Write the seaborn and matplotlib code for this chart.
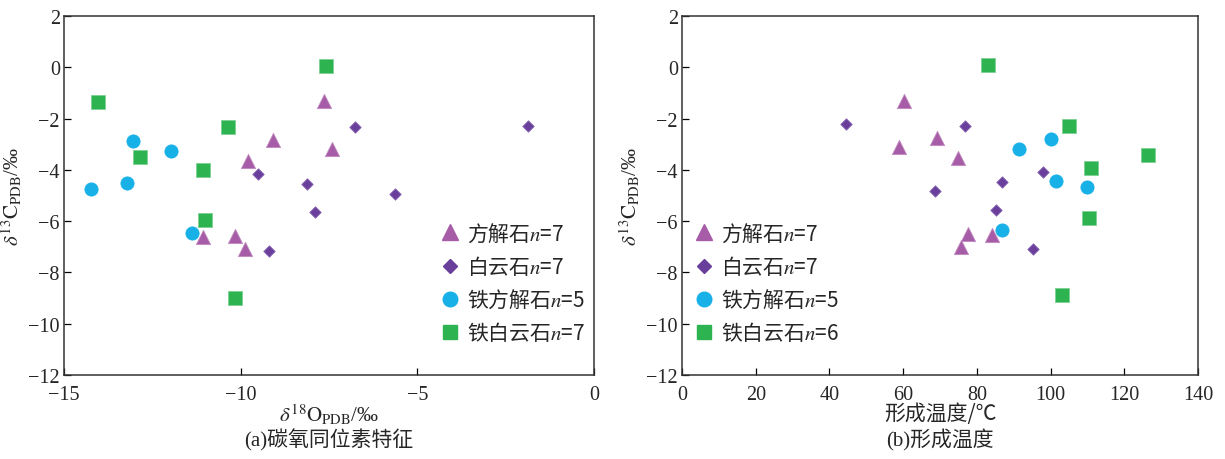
import matplotlib
matplotlib.use("Agg")
import matplotlib.pyplot as plt
import seaborn as sns
import pandas as pd
from matplotlib.lines import Line2D

sns.set_style("white")
plt.rcParams['font.family'] = ['Liberation Serif', 'Noto Sans CJK SC', 'DejaVu Sans']
plt.rcParams['mathtext.fontset'] = 'stix'
plt.rcParams['axes.unicode_minus'] = True

# ---- data: panel (a) delta18O vs delta13C ----
calcite_o = [-9.79, -9.09, -7.64, -7.42, -11.07, -10.16, -9.88]
calcite_c = [-3.66, -2.82, -1.33, -3.19, -6.62, -6.58, -7.09]
dolomite_o = [-6.76, -9.52, -8.11, -7.89, -1.86, -5.63, -9.20]
dolomite_c = [-2.34, -4.16, -4.54, -5.64, -2.28, -4.93, -7.17]
fecalcite_o = [-13.06, -11.96, -14.24, -13.23, -11.37]
fecalcite_c = [-2.88, -3.27, -4.75, -4.50, -6.45]
ankerite_o = [-14.05, -12.85, -10.37, -11.07, -11.00, -7.58, -10.16]
ankerite_c = [-1.34, -3.49, -2.34, -4.02, -5.97, 0.06, -9.00]

# ---- data: panel (b) formation temperature vs delta13C ----
calcite_t = [60.2, 58.8, 69.1, 75.0, 77.7, 75.6, 84.2]
calcite_c2 = [-1.30, -3.12, -2.76, -3.54, -6.50, -7.00, -6.54]
dolomite_t = [44.5, 68.7, 76.8, 86.8, 85.2, 98.0, 95.3]
dolomite_c2 = [-2.22, -4.84, -2.28, -4.46, -5.55, -4.08, -7.09]
fecalcite_t = [91.3, 100.0, 101.5, 109.9, 86.7]
fecalcite_c2 = [-3.17, -2.80, -4.42, -4.66, -6.35]
ankerite_t = [82.9, 105.0, 126.3, 111.0, 110.3, 103.2]
ankerite_c2 = [0.09, -2.30, -3.42, -3.94, -5.87, -8.87]

minerals = ['方解石', '白云石', '铁方解石', '铁白云石']
counts_a = [7, 7, 5, 7]
counts_b = [7, 7, 5, 6]
xticks_a = [-15, -10, -5, 0]
xticks_b = [0, 20, 40, 60, 80, 100, 120, 140]
yticks = [2, 0, -2, -4, -6, -8, -10, -12]

colors = ['#a65ca6', '#6a3f9b', '#17b1e8', '#2db34f']
edgecolors = ['#c08ac0', '#8a6ab5', '#17b1e8', '#7fd095']
markers = ['^', 'D', 'o', 's']
sizes = [105, 34, 90, 95]

df_a = pd.concat([
    pd.DataFrame({'x': calcite_o, 'y': calcite_c, 'm': minerals[0]}),
    pd.DataFrame({'x': dolomite_o, 'y': dolomite_c, 'm': minerals[1]}),
    pd.DataFrame({'x': fecalcite_o, 'y': fecalcite_c, 'm': minerals[2]}),
    pd.DataFrame({'x': ankerite_o, 'y': ankerite_c, 'm': minerals[3]}),
])
df_b = pd.concat([
    pd.DataFrame({'x': calcite_t, 'y': calcite_c2, 'm': minerals[0]}),
    pd.DataFrame({'x': dolomite_t, 'y': dolomite_c2, 'm': minerals[1]}),
    pd.DataFrame({'x': fecalcite_t, 'y': fecalcite_c2, 'm': minerals[2]}),
    pd.DataFrame({'x': ankerite_t, 'y': ankerite_c2, 'm': minerals[3]}),
])

fig = plt.figure(figsize=(12.25, 4.6), dpi=100)
ax1 = fig.add_axes([64/1225, 1-376/460, 530/1225, 359/460])
ax2 = fig.add_axes([682/1225, 1-376/460, 516/1225, 359/460])

tick_fs = 14.5
cjk = ['Noto Sans CJK SC', 'DejaVu Sans']


def draw(ax, df, counts, xlim, xticks, legend_loc):
    for i, m in enumerate(minerals):
        sub = df[df['m'] == m]
        sns.scatterplot(data=sub, x='x', y='y', ax=ax, marker=markers[i], s=sizes[i],
                        color=colors[i], edgecolor=edgecolors[i], linewidth=0.6,
                        legend=False, zorder=3)
    ax.set_xlim(*xlim)
    ax.set_ylim(-12, 2)
    ax.set_xticks(xticks)
    ax.set_yticks(yticks)
    ax.tick_params(direction='in', length=5, width=0.9, labelsize=tick_fs,
                   color='black', left=True, bottom=True, top=False, right=False, pad=3)
    ax.tick_params(axis='x', pad=7)
    for sp in ax.spines.values():
        sp.set_visible(True)
        sp.set_color('#333333')
        sp.set_linewidth(1.1)
    ax.set_ylabel(r'$\delta^{13}\mathrm{C}_{\mathrm{PDB}}$/‰', fontsize=15, labelpad=3)
    handles = [Line2D([], [], linestyle='none', marker=markers[i], color=colors[i],
                      markeredgecolor=colors[i],
                      markersize=[12, 7, 10.5, 10][i]) for i in range(4)]
    labels = [f'{m}$n$=' + str(c) for m, c in zip(minerals, counts)]
    leg = ax.legend(handles, labels, loc=legend_loc, frameon=False,
                    prop={'family': cjk, 'size': 15}, handletextpad=0.3,
                    labelspacing=0.45, handlelength=1.0, borderaxespad=0.3)
    return leg


draw(ax1, df_a, counts_a, (-15, 0), xticks_a, 'lower right')
draw(ax2, df_b, counts_b, (0, 140), xticks_b, 'lower left')

ax1.set_xlabel(r'$\delta^{18}\mathrm{O}_{\mathrm{PDB}}$/‰', fontsize=15, labelpad=-1)
ax2.set_xlabel('形成温度/℃', fontsize=15, labelpad=-1, family=cjk)
ax1.legend_.set_bbox_to_anchor((1.01, 0.045))
ax2.legend_.set_bbox_to_anchor((-0.005, 0.045))

fig.text((64+594)/2/1225, 1-440/460, '(a)碳氧同位素特征', ha='center', va='center',
         fontsize=15, family=['Liberation Serif', 'Noto Sans CJK SC'])
fig.text((682+1198)/2/1225, 1-440/460, '(b)形成温度', ha='center', va='center',
         fontsize=15, family=['Liberation Serif', 'Noto Sans CJK SC'])

fig.savefig('out.png', dpi=100, facecolor='white')
